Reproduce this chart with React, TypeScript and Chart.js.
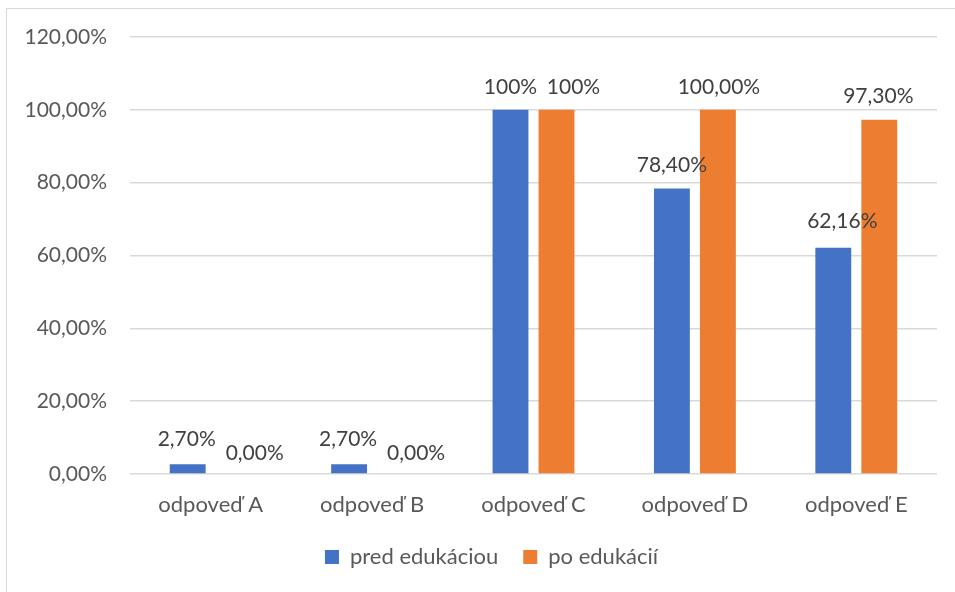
import React, { useEffect, useRef } from "react";
import { Chart, registerables } from "chart.js";

Chart.register(...registerables);

const categories = ["odpoveď A", "odpoveď B", "odpoveď C", "odpoveď D", "odpoveď E"];
const seriesNames = ["pred edukáciou", "po edukácií"];
const predValues = [2.7, 2.7, 100, 78.4, 62.16];
const poValues = [0, 0, 100, 100, 97.3];
const predLabels = ["2,70%", "2,70%", "100%", "78,40%", "62,16%"];
const poLabels = ["0,00%", "0,00%", "100%", "100,00%", "97,30%"];
const yTickValues = [0, 20, 40, 60, 80, 100, 120];

const FONT = "Lato, 'Open Sans', sans-serif";
const FS = 22;
const FSN = 21;

// small nudges (px) for data labels, like the hand-placed labels of the original
const labelNudge: Record<string, [number, number][]> = {
  "0": [[-1, -2], [-1, -2], [0, 0], [0, 0], [9, -3]],
  "1": [[21, 2], [21, 2], [17, 0], [1, 0], [-1, 0]],
};

const dataLabelPlugin = {
  id: "dataLabels",
  afterDatasetsDraw(chart: any) {
    const ctx = chart.ctx;
    ctx.save();
    ctx.font = `${FSN}px ${FONT}`;
    ctx.fillStyle = "#404040";
    ctx.textAlign = "center";
    ctx.textBaseline = "middle";
    chart.data.datasets.forEach((ds: any, di: number) => {
      const meta = chart.getDatasetMeta(di);
      meta.data.forEach((bar: any, i: number) => {
        const [dx, dy] = labelNudge[String(di)][i];
        ctx.fillText(ds.labelsText[i], bar.x + dx, bar.y - 23 + dy);
      });
    });
    ctx.restore();
  },
};

// the legend of the original sits a little right of the canvas centre
const legendShiftPlugin = {
  id: "legendShift",
  afterLayout(chart: any) {
    const lg = chart.legend;
    if (lg) {
      lg.left += 19.5;
      lg.right += 19.5;
    }
  },
};

export default function App() {
  const ref = useRef<HTMLCanvasElement>(null);
  useEffect(() => {
    if (!ref.current) return;
    const chart = new Chart(ref.current, {
      type: "bar",
      data: {
        labels: categories,
        datasets: [
          {
            label: seriesNames[0],
            data: predValues,
            backgroundColor: "#4472C4",
            categoryPercentage: 0.57,
            barPercentage: 0.78,
            labelsText: predLabels,
          } as any,
          {
            label: seriesNames[1],
            data: poValues,
            backgroundColor: "#ED7D31",
            categoryPercentage: 0.57,
            barPercentage: 0.78,
            labelsText: poLabels,
          } as any,
        ],
      },
      options: {
        animation: false,
        responsive: false,
        layout: { padding: { top: 28, right: 18, bottom: 14, left: 0 } },
        scales: {
          y: {
            min: 0,
            max: 120,
            afterFit: (s: any) => {
              s.width = 123;
              s.paddingTop = 0;
              s.paddingBottom = 0;
            },
            afterBuildTicks: (s: any) => {
              s.ticks = yTickValues.map((v) => ({ value: v }));
            },
            grid: { color: "#d9d9d9", lineWidth: 1.5, drawTicks: false },
            border: { display: false },
            ticks: {
              padding: 23,
              color: "#595959",
              font: { family: FONT, size: FSN },
              callback: (v: any) => Number(v).toFixed(2).replace(".", ",") + "%",
            },
          },
          x: {
            afterFit: (s: any) => {
              s.height = 47;
              s.paddingLeft = 0;
              s.paddingRight = 0;
            },
            grid: { display: false, drawTicks: false },
            border: { display: false },
            ticks: {
              padding: 18,
              color: "#595959",
              font: { family: FONT, size: FS },
            },
          },
        },
        plugins: {
          legend: {
            position: "bottom",
            labels: {
              boxWidth: 14,
              boxHeight: 14,
              padding: 25,
              color: "#595959",
              font: { family: FONT, size: FS },
            },
          },
          tooltip: { enabled: false },
        },
      },
      plugins: [dataLabelPlugin, legendShiftPlugin],
    } as any);
    return () => chart.destroy();
  }, []);

  return (
    <div
      style={{
        position: "absolute",
        left: 6,
        top: 8,
        width: 949,
        height: 584,
        borderLeft: "1px solid #d9d9d9",
        borderTop: "1px solid #d9d9d9",
        background: "#fff",
      }}
    >
      <canvas ref={ref} width={948} height={583} style={{ display: "block" }} />
    </div>
  );
}
